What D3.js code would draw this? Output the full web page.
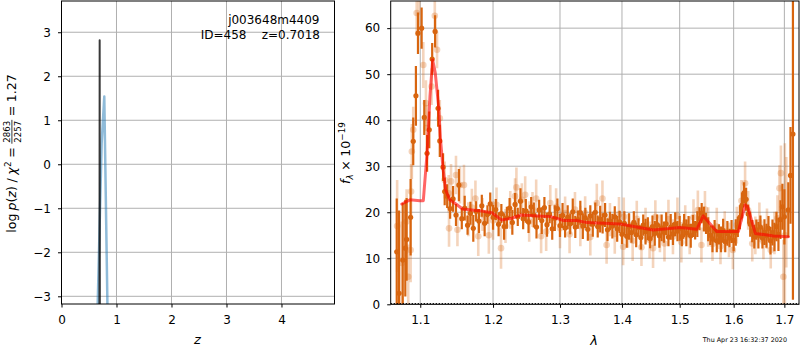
<!DOCTYPE html>
<html><head><meta charset="utf-8">
<script src="https://cdn.jsdelivr.net/npm/d3@7"></script>
<style>
body{margin:0;background:#fff}
svg{display:block}
text{font-family:"DejaVu Sans",sans-serif;fill:#000}
</style>
</head><body>
<svg id="c" width="800" height="350"></svg>
<script>
// ---------- Left panel data: log p(z) ----------
const zTicks = [0, 1, 2, 3, 4];
const lpTicks = [-3, -2, -1, 0, 1, 2, 3];
const blueZ = [0.650, 0.730, 0.778, 0.840];
const blueLogP = [-3.6, 0.48, 1.54, -3.6];
const blackZ = [0.690, 0.694, 0.698];
const blackLogP = [-4.0, 2.82, -4.0];
const objName = "j003648m4409";
const objInfo = "ID=458    z=0.7018";

// ---------- Right panel data: spectrum ----------
const lamTicks = [1.1, 1.2, 1.3, 1.4, 1.5, 1.6, 1.7];
const fluxTicks = [0, 10, 20, 30, 40, 50, 60];

const darkLam = [
 1.0695,1.0725,1.0772,1.0805,1.0822,1.0874,1.0908,1.0943,1.0970,1.1018,
 1.1053,1.1090,1.1119,1.1158,1.1197,1.1237,1.1260,1.1304,1.1326,
 1.136,1.140,1.144,1.148,1.152,1.156,1.160,1.164,1.168,1.172,
 1.176,1.180,1.184,1.188,1.192,1.196,1.200,1.204,1.208,1.212,
 1.216,1.220,1.224,1.228,1.232,1.236,1.240,1.244,1.248,1.252,
 1.256,1.260,1.264,1.268,1.272,1.276,1.280,1.284,1.288,1.292,
 1.296,1.300,1.304,1.308,1.312,1.316,1.320,1.324,1.328,1.332,
 1.336,1.340,1.344,1.348,1.352,1.356,1.360,1.364,1.368,1.372,
 1.376,1.380,1.384,1.388,1.392,1.396,1.400,1.404,1.408,1.412,
 1.416,1.420,1.424,1.428,1.432,1.436,1.440,1.444,1.448,1.452,
 1.456,1.460,1.464,1.468,1.472,1.476,1.480,1.484,1.488,1.492,
 1.496,1.500,1.504,1.508,1.512,1.516,1.520,1.524,1.528,1.532,
 1.536,1.540,1.544,1.548,1.552,1.556,1.560,1.564,1.568,1.572,
 1.576,1.580,1.584,1.588,1.592,1.596,1.600,1.604,1.608,1.612,
 1.616,1.620,1.624,1.628,1.632,1.636,1.640,1.644,1.648,1.652,
 1.656,1.660,1.664,1.668,1.672,1.676,1.680,1.684,1.688,1.692,
 1.696,1.700,
 1.7080,1.7125,1.7175
];
const darkFlux = [
 11.4,2.4,9.6,12.2,14.1,18.9,35.4,45.3,58.9,60.0,
 40.6,32.8,37.9,53.3,59.3,42.6,35.5,29.8,24.5,
 23.5,20.8,22.9,19.4,25.9,18.6,20.9,17.2,19.8,16.5,
 20.2,18.1,21.4,17.6,19.5,21.8,18.9,20.6,17.4,19.7,
 16.9,18.8,20.9,17.8,21.7,19.0,22.4,18.6,20.3,17.9,
 21.2,19.4,16.8,20.5,18.2,21.0,17.3,19.6,16.4,18.7,
 20.8,17.1,19.3,16.6,18.9,17.5,20.1,16.8,18.4,19.9,
 17.0,18.8,16.3,19.2,17.4,20.0,16.9,18.5,17.6,19.4,
 16.2,18.1,17.0,19.0,16.4,17.9,15.2,17.6,14.8,16.9,
 15.6,17.8,15.1,16.7,14.5,17.2,15.8,16.4,14.3,16.9,
 15.4,17.3,14.9,16.6,15.7,17.5,14.6,16.8,15.3,17.4,
 15.9,16.5,14.7,17.1,15.5,16.9,14.9,17.0,16.1,17.4,
 18.6,19.8,18.5,17.6,16.3,15.0,14.2,15.9,13.8,15.2,
 14.1,16.0,13.6,15.4,14.4,15.8,13.9,15.6,16.8,18.9,
 21.5,24.2,22.8,19.6,17.4,15.9,14.7,16.2,15.0,16.8,
 14.4,15.7,14.9,16.5,13.8,15.6,14.6,16.9,15.2,18.4,
 21.2,19.0,
 20.5,28.0,37.0
];
const darkErr = [
 11.6,18.0,12.4,10.5,9.0,8.3,5.2,6.5,4.5,4.5,
 3.8,4.0,4.0,3.5,3.5,4.0,3.5,3.0,3.0,
 2.6,2.2,2.8,2.4,3.5,2.3,2.7,2.1,2.5,2.9,
 2.2,2.6,2.4,2.8,2.0,2.5,2.7,2.3,2.6,2.1,
 2.9,2.4,2.2,2.7,2.5,2.0,2.8,2.3,2.6,2.4,
 2.1,2.7,2.5,2.2,2.9,2.3,2.6,2.0,2.4,2.8,
 2.2,2.5,2.7,2.1,2.6,2.3,2.9,2.4,2.0,2.6,
 2.8,2.2,2.5,2.3,2.7,2.1,2.4,2.9,2.2,2.6,
 2.5,2.0,2.7,2.3,2.8,2.4,2.1,2.6,2.5,2.9,
 2.2,2.4,2.7,2.0,2.6,2.3,2.8,2.5,2.1,2.4,
 2.7,2.2,2.6,2.9,2.3,2.5,2.0,2.8,2.4,2.6,
 2.2,2.7,2.1,2.5,2.9,2.3,2.6,2.4,2.0,2.8,
 2.5,2.2,2.7,2.3,2.6,2.1,2.9,2.4,2.5,2.2,
 2.8,2.6,2.3,2.7,2.0,2.5,2.4,2.9,2.2,2.6,
 2.8,2.3,2.5,2.1,2.7,2.4,2.6,2.2,2.9,2.5,
 2.3,2.8,2.6,2.7,3.0,2.8,3.1,3.2,3.6,4.2,
 5.0,6.0,
 6.0,10.5,36.0
];

const lightLam = [
 1.0700,1.0760,1.0822,1.0843,1.0874,1.0880,1.0890,1.0908,1.0953,1.0985,
 1.1040,1.1075,1.1085,1.1150,1.1193,1.1223,1.1260,1.1326,1.1380,1.1385,
 1.1412,1.1480,1.1500,1.1535,1.1590,1.1650,1.1700,1.1750,1.1790,1.1850,
 1.1940,1.2000,1.2050,1.2115,1.2180,1.2250,1.2320,1.2340,1.2420,1.2470,
 1.2530,1.2580,1.2635,1.2710,1.2787,1.2850,1.2940,1.3000,1.3080,1.3150,
 1.3235,1.3320,1.3397,1.3480,1.3585,1.3677,1.3745,1.3800,1.3880,1.3950,
 1.4020,1.4030,1.4100,1.4180,1.4250,1.4330,1.4400,1.4470,1.4530,1.4570,
 1.4650,1.4730,1.4800,1.4880,1.4960,1.5030,1.5100,1.5180,1.5250,1.5330,
 1.5395,1.5460,1.5520,1.5600,1.5680,1.5750,1.5830,1.5910,1.5985,1.6060,
 1.6150,1.6220,1.6280,1.6360,1.6420,1.6500,1.6580,1.6650,1.6725,1.6800,
 1.6860,1.6900,1.6930,1.6980,1.7010,1.7040
];
const lightFlux = [
 17.0,9.0,18.0,6.0,11.8,24.5,33.2,37.9,63.3,66.5,
 52.0,43.7,38.3,47.3,62.7,55.3,40.4,27.0,24.1,16.5,
 26.7,28.1,16.2,25.9,25.9,18.5,21.0,23.0,14.8,19.5,
 15.0,18.2,21.6,12.2,17.0,20.5,23.5,25.4,22.7,23.8,
 18.0,20.6,23.0,14.8,15.8,22.0,21.2,16.5,19.8,15.2,
 20.6,17.0,19.8,14.6,22.0,23.0,12.9,18.4,15.3,19.5,
 12.5,19.0,16.0,13.8,18.6,12.4,17.2,14.0,12.2,19.0,
 15.4,13.2,18.5,14.7,19.2,13.5,17.8,15.0,18.9,20.5,
 12.9,20.6,16.8,13.1,16.9,12.6,15.8,14.0,11.8,17.2,
 22.5,26.3,20.4,13.2,15.0,17.8,13.6,16.4,11.8,15.5,
 18.7,25.2,28.5,6.0,15.0,20.0
];
const lightErr = [
 10,9,7,7,7,6,6,5,5,6,
 5,5,5,4,4,4,4,4,4,4,
 3.8,4.2,3.6,4.0,4.4,3.7,4.1,3.9,4.3,3.6,
 4.0,4.2,3.8,4.5,3.7,4.1,3.9,4.3,3.6,4.0,
 4.4,3.8,4.1,3.7,4.2,3.9,4.0,4.3,3.6,4.1,
 3.8,4.4,3.7,4.0,4.2,3.9,4.1,3.6,4.3,3.8,
 4.0,4.2,3.7,4.4,3.9,4.1,3.8,4.0,4.3,3.6,
 4.1,3.9,4.2,3.8,4.0,4.4,3.7,4.1,3.9,4.2,
 3.8,4.0,4.3,3.7,4.1,3.9,4.4,3.8,4.2,4.0,
 4.5,4.7,4.2,3.9,4.1,4.3,3.8,4.4,4.0,4.6,
 5,5,6,8,20,12
];

const modelLam = [1.076,1.0865,1.0996,1.104,1.109,1.1128,1.1164,1.1199,1.1244,1.127,1.1305,1.134,1.1395,1.148,1.157,1.18,1.1985,1.2125,1.227,1.241,1.266,1.286,1.306,1.326,1.343,1.397,1.453,1.501,1.531,1.543,1.568,1.609,1.622,1.627,1.642,1.678,1.708];
const modelFlux = [21.8,22.7,22.5,22.5,32.8,45.1,53.1,50.3,43.0,35.7,29.2,24.8,22.7,21.8,20.7,20.35,19.9,18.3,18.7,19.4,19.2,19.05,18.2,18.2,17.75,17.45,16.15,16.7,16.3,19.2,15.8,15.8,21.6,21.2,15.4,14.85,14.7];
const timeStamp = "Thu Apr 23 16:32:37 2020";

// ---------- drawing ----------
const svg = d3.select('#c');
const GRID = '#b0b0b0';
const ORANGE = '#d8650f';
const FS = 12;

function frame(g, x0, x1, y0, y1) {
  g.append('rect').attr('x', x0).attr('y', y0).attr('width', x1 - x0).attr('height', y1 - y0)
    .attr('fill', 'none').attr('stroke', '#000').attr('stroke-width', 1);
}
function styleAxis(a) {
  a.select('.domain').remove();
  a.selectAll('.tick line').attr('stroke', '#000').attr('stroke-width', 1);
  a.selectAll('.tick text').attr('font-size', FS).attr('font-family', '"DejaVu Sans",sans-serif').attr('fill', '#000');
}

// ===== Left panel =====
const L = {x0: 61.5, x1: 334.5, y0: 1, y1: 304};
const xz = d3.scaleLinear().domain([0, 4.964]).range([L.x0, L.x1]);
const yz = d3.scaleLinear().domain([-3.175, 3.71]).range([L.y1, L.y0]);
const gl = svg.append('g');
gl.append('clipPath').attr('id', 'clipL').append('rect')
  .attr('x', L.x0).attr('y', L.y0).attr('width', L.x1 - L.x0).attr('height', L.y1 - L.y0);
const glg = gl.append('g');
zTicks.forEach(t => glg.append('line').attr('x1', xz(t)).attr('x2', xz(t)).attr('y1', L.y0).attr('y2', L.y1).attr('stroke', GRID).attr('stroke-width', 1));
lpTicks.forEach(t => glg.append('line').attr('x1', L.x0).attr('x2', L.x1).attr('y1', yz(t)).attr('y2', yz(t)).attr('stroke', GRID).attr('stroke-width', 1));

const glc = gl.append('g').attr('clip-path', 'url(#clipL)');
const lineZ = d3.line().x(d => xz(d[0])).y(d => yz(d[1]));
glc.append('path').attr('d', lineZ(d3.zip(blueZ, blueLogP))).attr('fill', 'none')
  .attr('stroke', '#1f77b4').attr('stroke-opacity', 0.5).attr('stroke-width', 2.5).attr('stroke-linejoin', 'round');
glc.append('path').attr('d', lineZ(d3.zip(blackZ, blackLogP))).attr('fill', 'none')
  .attr('stroke', '#000').attr('stroke-opacity', 0.78).attr('stroke-width', 2).attr('stroke-linejoin', 'round');

gl.append('g').attr('transform', `translate(0,${L.y1})`)
  .call(d3.axisBottom(xz).tickValues(zTicks).tickFormat(d3.format('d')).tickSize(3.5).tickPadding(8)).call(styleAxis);
gl.append('g').attr('transform', `translate(${L.x0},0)`)
  .call(d3.axisLeft(yz).tickValues(lpTicks).tickFormat(d => d < 0 ? '\u2212' + Math.abs(d) : String(d)).tickSize(3.5).tickPadding(7)).call(styleAxis);
frame(gl, L.x0, L.x1, L.y0, L.y1);

gl.append('text').attr('x', 319.5).attr('y', 24).attr('text-anchor', 'end').attr('font-size', FS).text(objName);
gl.append('text').attr('x', 320).attr('y', 39).attr('text-anchor', 'end').attr('font-size', FS)
  .style('white-space', 'pre').attr('xml:space', 'preserve').text(objInfo);
gl.append('text').attr('x', 197.5).attr('y', 344).attr('text-anchor', 'middle').attr('font-size', 13)
  .style('font-style', 'italic').text('z');

// left y label (mathtext-like)
(function(){
  const outer = svg.append('g').attr('transform', 'translate(16,153.5) rotate(-90)');
  const g = outer.append('g');
  const fs = 12.6;
  function piece(txt, x, y, size, italic) {
    const t = g.append('text').attr('x', x).attr('y', y).attr('font-size', size)
      .style('font-style', italic ? 'italic' : 'normal').text(txt);
    return t.node().getComputedTextLength();
  }
  let cx = 0;
  cx += piece('log', cx, 0, fs) + 3;
  cx += piece('p', cx, 0, fs, true);
  cx += piece('(', cx, 0, fs);
  cx += piece('z', cx, 0, fs, true);
  cx += piece(')', cx, 0, fs);
  cx += 3.5; cx += piece('/', cx, 0, fs); cx += 3.5;
  cx += piece('\u03c7', cx, 0, fs, true) + 0.5;
  cx += piece('2', cx, -5.5, fs * 0.7);
  cx += 3.5; cx += piece('=', cx, 0, fs); cx += 3.5;
  const fsz = 8.6;
  const w1 = piece('2863', cx + 1, -5.6, fsz);
  piece('2257', cx + 1, 4.6, fsz);
  g.append('line').attr('x1', cx).attr('x2', cx + w1 + 2).attr('y1', -4.1).attr('y2', -4.1)
    .attr('stroke', '#000').attr('stroke-width', 0.8);
  cx += w1 + 2;
  cx += 3.5; cx += piece('=', cx, 0, fs); cx += 3.5;
  cx += piece('1.27', cx, 0, fs);
  g.attr('transform', `translate(${-cx / 2},0)`);
})();

// ===== Right panel =====
const R = {x0: 390.7, x1: 799, y0: 1, y1: 304.3};
const xl = d3.scaleLog().domain([1.0618, 1.730]).range([R.x0, R.x1]);
const yf = d3.scaleLinear().domain([0, 65.9]).range([R.y1, R.y0]);
const gr = svg.append('g');
gr.append('clipPath').attr('id', 'clipR').append('rect')
  .attr('x', R.x0).attr('y', R.y0).attr('width', R.x1 - R.x0).attr('height', R.y1 - R.y0);
lamTicks.forEach(t => gr.append('line').attr('x1', xl(t)).attr('x2', xl(t)).attr('y1', R.y0).attr('y2', R.y1).attr('stroke', GRID).attr('stroke-width', 1));
fluxTicks.forEach(t => gr.append('line').attr('x1', R.x0).attr('x2', R.x1).attr('y1', yf(t)).attr('y2', yf(t)).attr('stroke', GRID).attr('stroke-width', 1));

const grc = gr.append('g').attr('clip-path', 'url(#clipR)');
const light = d3.zip(lightLam, lightFlux, lightErr);
const dark = d3.zip(darkLam, darkFlux, darkErr);

const gLight = grc.append('g');
light.forEach(d => {
  gLight.append('line').attr('x1', xl(d[0])).attr('x2', xl(d[0])).attr('y1', yf(d[1] - d[2])).attr('y2', yf(d[1] + d[2]))
    .attr('stroke', ORANGE).attr('stroke-opacity', 0.28).attr('stroke-width', 2.6);
  gLight.append('circle').attr('cx', xl(d[0])).attr('cy', yf(d[1])).attr('r', 3.3)
    .attr('fill', ORANGE).attr('fill-opacity', 0.28);
});
const gDark = grc.append('g');
dark.forEach(d => {
  gDark.append('line').attr('x1', xl(d[0])).attr('x2', xl(d[0])).attr('y1', yf(d[1] - d[2])).attr('y2', yf(d[1] + d[2]))
    .attr('stroke', ORANGE).attr('stroke-width', 2.2);
});
dark.forEach(d => {
  gDark.append('circle').attr('cx', xl(d[0])).attr('cy', yf(d[1])).attr('r', 2.6).attr('fill', ORANGE);
});
grc.append('path').attr('d', d3.line().x(d => xl(d[0])).y(d => yf(d[1]))(d3.zip(modelLam, modelFlux)))
  .attr('fill', 'none').attr('stroke', 'red').attr('stroke-opacity', 0.6).attr('stroke-width', 3)
  .attr('stroke-linejoin', 'round').attr('stroke-linecap', 'round');

gr.append('g').attr('transform', `translate(0,${R.y1})`)
  .call(d3.axisBottom(xl).tickValues(lamTicks).tickFormat(d3.format('.1f')).tickSize(3.5).tickPadding(8)).call(styleAxis);
gr.append('g').attr('transform', `translate(${R.x0},0)`)
  .call(d3.axisLeft(yf).tickValues(fluxTicks).tickFormat(d3.format('d')).tickSize(3.5).tickPadding(7)).call(styleAxis);
frame(gr, R.x0, R.x1, R.y0, R.y1);
// zero level dotted line
gr.append('line').attr('x1', R.x0).attr('x2', R.x1).attr('y1', yf(0) - 0.8).attr('y2', yf(0) - 0.8)
  .attr('stroke', '#000').attr('stroke-width', 1.2).attr('stroke-dasharray', '1.2,1.8');

gr.append('text').attr('x', 594).attr('y', 345).attr('text-anchor', 'middle').attr('font-size', 13)
  .style('font-style', 'italic').text('\u03bb');
gr.append('text').attr('x', 787).attr('y', 342).attr('text-anchor', 'end').attr('font-size', 6.4).text(timeStamp);

// right y label
(function(){
  const outer = svg.append('g').attr('transform', 'translate(350,153) rotate(-90)');
  const g = outer.append('g');
  const fs = 12.6;
  function piece(txt, x, y, size, italic) {
    const t = g.append('text').attr('x', x).attr('y', y).attr('font-size', size)
      .style('font-style', italic ? 'italic' : 'normal').text(txt);
    return t.node().getComputedTextLength();
  }
  let cx = 0;
  cx += piece('f', cx, 0, fs, true);
  cx += piece('\u03bb', cx, 3, fs * 0.7, true);
  cx += 3.5; cx += piece('\u00d7', cx, 0, fs); cx += 3.5;
  cx += piece('10', cx, 0, fs);
  cx += piece('\u221219', cx, -5.5, fs * 0.7);
  g.attr('transform', `translate(${-cx / 2},0)`);
})();
</script>
</body></html>
